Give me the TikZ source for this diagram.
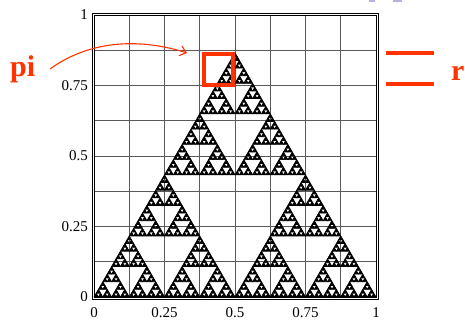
\documentclass[tikz,border=0pt]{standalone}
\usepackage{fontspec}
\setmainfont{Liberation Serif}
\usetikzlibrary{arrows.meta}
\definecolor{hot}{RGB}{255,51,0}
\definecolor{lav}{RGB}{185,175,225}
\def\sierp#1#2#3#4{%
  \ifnum#1=0\relax
    \fill[black,draw=black,line width=0.7pt,line join=round] (#2,#3) -- ++(#4,0) -- ++(120:#4) -- cycle;
  \else
    \begingroup
    \pgfmathsetmacro\hh{#4/2}%
    \pgfmathsetmacro\xa{#2+\hh}%
    \pgfmathsetmacro\xb{#2+\hh/2}%
    \pgfmathsetmacro\yb{#3+\hh*0.8660254}%
    \pgfmathtruncatemacro\lv{#1-1}%
    \edef\next{\noexpand\sierp{\lv}{#2}{#3}{\hh}\noexpand\sierp{\lv}{\xa}{#3}{\hh}\noexpand\sierp{\lv}{\xb}{\yb}{\hh}}%
    \expandafter\endgroup\next
  \fi}
\tikzset{
  gridline/.style={gray!70!black,line width=0.9pt},
  ticklab/.style={font=\fontsize{15}{15}\selectfont,inner sep=0pt},
  redlab/.style={font=\fontsize{30}{30}\selectfont\bfseries,text=hot,inner sep=0pt},
  redbar/.style={hot,line width=4pt},
}
\begin{document}
\begin{tikzpicture}[x=1pt,y=1pt]
\useasboundingbox (0,0) rectangle (465,320);
% clipped lavender fragments at the top edge
\fill[lav] (369,317.5) rectangle (375,320);
\fill[lav] (393,317.5) rectangle (402,320);
\begin{scope}[shift={(94,23)},x=282pt,y=282pt]
  \foreach \i in {1,...,7}{
    \draw[gridline] (\i/8,0) -- (\i/8,1);
    \draw[gridline] (0,\i/8) -- (1,\i/8);
  }
  \sierp{6}{0}{0}{1}
  \draw[black,line width=0.8pt] (0,0) rectangle (1,1);
  \draw[black,line width=0.8pt] (-2pt,-2pt) rectangle ([shift={(2pt,2pt)}]1,1);
  % tick labels
  \foreach \v/\t in {0/0,0.25/0.25,0.5/0.5,0.75/0.75,1/1}{
    \node[ticklab,anchor=east] (y\t) at ([xshift=-6pt]0,\v) {\t};
    \node[ticklab,anchor=base] (x\t) at ([yshift=-2pt]\v,0 |- 0,-19pt) {\t};
  }
\end{scope}
% red square
\draw[hot,line width=4pt] (203.7,266.3) rectangle (233,235.3);
\coordinate (boxtip) at (187,267);
% labels
\node[redlab,anchor=base west] (pi) at (10,243) {pi};
\node[redlab,anchor=base west] (r) at (451,239) {r};
\coordinate (l1a) at (386,267.3);
\coordinate (l1b) at (434,267.3);
\coordinate (l2a) at (386,235.7);
\coordinate (l2b) at (434,235.7);
\draw[redbar] (l1a) -- (l1b);
\draw[redbar] (l2a) -- (l2b);
% arrow
\coordinate (arrs) at (50,251);
\draw[hot,line width=1.1pt,-{Straight Barb[length=6pt,width=10pt]}] (arrs) .. controls (90,280) and (140,282) .. (boxtip);
\end{tikzpicture}
\end{document}
